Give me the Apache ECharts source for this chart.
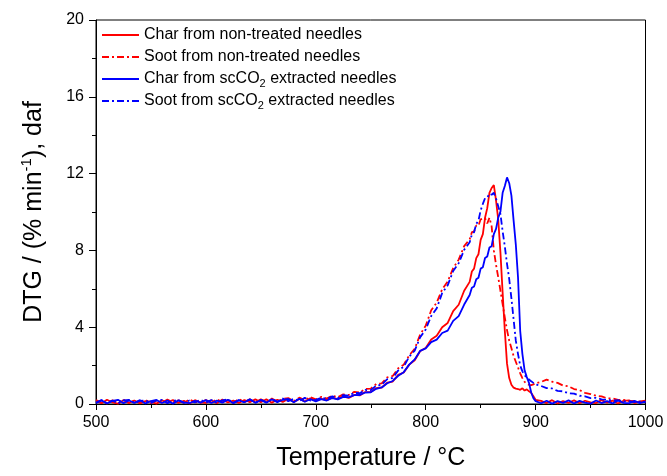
<!DOCTYPE html>
<html>
<head>
<meta charset="utf-8">
<title>DTG curves of char and soot</title>
<script src="https://cdn.jsdelivr.net/npm/echarts@6/dist/echarts.min.js"></script>
<style>
  html, body { margin: 0; padding: 0; background: #fff; }
  #chart { width: 667px; height: 476px; }
</style>
</head>
<body>
<div id="chart"></div>
<script>
// Temperature grid (°C), shared by all four DTG records
const temps = [
  500,505,510,515,520,525,530,535,540,545,
  550,555,560,565,570,575,580,585,590,595,
  600,605,610,615,620,625,630,635,640,645,
  650,655,660,665,670,675,680,685,690,695,
  700,705,710,715,720,725,730,735,740,745,
  750,755,760,765,770,775,780,785,790,795,
  800,805,810,815,820,825,830,835,840,
  842,844,846,848,850,852,854,856,858,860,
  862,864,866,868,870,872,874,876,878,880,
  882,884,886,888,890,892,894,896,898,900,
  905,910,915,920,925,930,935,940,945,950,
  955,960,965,970,975,980,985,990,995,1000
];

// DTG (% min-1, daf): char from non-treated needles
const charRaw = [
  0.16,0.04,0.22,0.08,0.02,0.20,0.06,0.18,0.03,0.15,
  0.12,0.02,0.19,0.07,0.21,0.05,0.17,0.03,0.20,0.09,
  0.06,0.19,0.04,0.23,0.08,0.18,0.05,0.21,0.10,0.24,
  0.09,0.25,0.07,0.22,0.11,0.27,0.10,0.26,0.13,0.30,
  0.18,0.27,0.20,0.33,0.26,0.40,0.32,0.47,0.45,0.62,
  0.62,0.83,0.86,1.11,1.17,1.52,1.64,2.05,2.28,2.76,
  2.92,3.36,3.55,4.00,4.22,4.84,5.17,5.90,6.36,
  6.90,7.05,7.60,7.80,8.55,8.85,9.70,10.2,11.0,11.25,
  11.4,10.6,9.60,7.90,5.80,3.80,2.10,1.35,1.00,0.85,
  0.80,0.78,0.74,0.82,0.70,0.76,0.66,0.58,0.40,0.22,
  0.16,0.05,0.20,0.03,0.15,0.06,0.19,0.04,0.17,0.08,
  0.05,0.20,0.07,0.18,0.03,0.16,0.19,0.05,0.14,0.18
];

// DTG: soot from non-treated needles
const sootRaw = [
  0.20,0.07,0.03,0.19,0.09,0.23,0.05,0.18,0.08,0.22,
  0.04,0.17,0.07,0.23,0.09,0.19,0.05,0.24,0.10,0.06,
  0.21,0.08,0.25,0.09,0.20,0.06,0.26,0.10,0.24,0.09,
  0.25,0.11,0.28,0.13,0.26,0.31,0.15,0.33,0.19,0.36,
  0.24,0.37,0.28,0.44,0.35,0.50,0.47,0.63,0.60,0.79,
  0.80,1.04,1.07,1.39,1.46,1.86,2.05,2.53,2.88,3.62,
  4.08,4.88,5.28,5.98,6.38,7.08,7.52,8.22,8.58,
  8.95,8.98,9.30,9.28,9.62,9.66,9.68,9.40,9.70,9.25,
  8.00,7.25,6.60,5.90,5.20,4.50,3.85,3.30,2.90,2.50,
  2.20,1.90,1.60,1.35,1.15,1.05,1.00,0.98,1.02,1.08,
  1.15,1.27,1.16,1.10,0.96,0.92,0.78,0.72,0.58,0.52,
  0.43,0.40,0.30,0.29,0.21,0.22,0.15,0.16,0.11,0.13
];

// DTG: char from scCO2 extracted needles
const charExt = [
  0.05,0.19,0.03,0.16,0.22,0.04,0.18,0.06,0.20,0.03,
  0.15,0.21,0.05,0.18,0.02,0.19,0.08,0.04,0.17,0.07,
  0.20,0.05,0.18,0.07,0.22,0.04,0.19,0.09,0.23,0.06,
  0.20,0.07,0.24,0.10,0.22,0.26,0.09,0.27,0.12,0.25,
  0.14,0.25,0.18,0.31,0.24,0.37,0.35,0.46,0.47,0.60,
  0.61,0.79,0.86,1.08,1.20,1.47,1.66,2.05,2.32,2.77,
  2.90,3.22,3.35,3.70,3.82,4.33,4.58,5.18,5.68,
  6.05,6.12,6.50,6.58,7.05,7.12,7.60,7.68,8.15,8.22,
  8.85,9.12,9.70,10.02,11.0,11.35,11.8,11.5,10.85,9.55,
  8.30,6.60,3.80,2.60,1.75,1.40,1.10,0.60,0.30,0.15,
  0.04,0.17,0.02,0.15,0.06,0.19,0.03,0.16,0.07,0.02,
  0.18,0.05,0.15,0.03,0.19,0.06,0.04,0.16,0.05,0.14
];

// DTG: soot from scCO2 extracted needles
const sootExt = [
  0.07,0.20,0.05,0.18,0.03,0.19,0.22,0.05,0.16,0.19,
  0.06,0.18,0.21,0.04,0.16,0.20,0.05,0.18,0.08,0.22,
  0.08,0.21,0.06,0.19,0.24,0.07,0.20,0.09,0.25,0.08,
  0.22,0.10,0.26,0.12,0.29,0.14,0.28,0.15,0.32,0.18,
  0.22,0.33,0.26,0.40,0.31,0.46,0.43,0.58,0.56,0.73,
  0.72,0.96,1.00,1.29,1.36,1.75,1.94,2.47,2.78,3.48,
  3.88,4.58,4.98,5.78,6.18,6.93,7.33,8.03,8.42,
  8.82,8.95,9.38,9.55,10.08,10.42,10.72,10.75,10.95,10.9,
  11.0,10.7,10.3,9.90,9.00,8.20,7.30,6.50,5.50,4.40,
  3.30,2.60,2.00,1.70,1.50,1.38,1.28,1.18,1.10,1.02,
  0.94,0.83,0.81,0.68,0.66,0.56,0.54,0.43,0.40,0.31,
  0.32,0.24,0.23,0.18,0.19,0.13,0.15,0.10,0.12,0.09
];

const xTicks = { min: 500, max: 1000, step: 100 };
const yTicks = { min: 0, max: 20, step: 4 };

const seriesNames = [
  'Char from non-treated needles',
  'Soot from non-treated needles',
  'Char from scCO2 extracted needles',
  'Soot from scCO2 extracted needles'
];

const FONT = '"Liberation Sans", Arial, Helvetica, sans-serif';
const RED = '#ff0000';
const BLUE = '#0000ff';
const DASH_DOT = [7, 3, 2, 3];

function pairs(values) {
  return temps.map((t, i) => [t, values[i]]);
}

function lineSeries(name, values, color, dashed) {
  return {
    name: name,
    type: 'line',
    data: pairs(values),
    showSymbol: false,
    symbol: 'none',
    smooth: false,
    lineStyle: { color: color, width: 1.8, type: dashed ? DASH_DOT : 'solid' },
    itemStyle: { color: color },
    emphasis: { disabled: true }
  };
}

const chart = echarts.init(document.getElementById('chart'), null, { renderer: 'canvas' });

chart.setOption({
  animation: false,
  backgroundColor: '#ffffff',
  textStyle: { fontFamily: FONT, color: '#000' },
  grid: {
    left: 96, right: 21.5, top: 20, bottom: 67.7,
    show: true, borderColor: '#000', borderWidth: 1, backgroundColor: 'transparent'
  },
  legend: {
    orient: 'vertical',
    left: 101,
    top: 25,
    padding: 0,
    itemGap: 2,
    itemWidth: 37,
    itemHeight: 14,
    selectedMode: false,
    data: seriesNames,
    itemStyle: { opacity: 0, borderWidth: 0 },
    lineStyle: { width: 2 },
    formatter: function (name) {
      return name.replace('scCO2', 'scCO{sub|2}');
    },
    textStyle: {
      fontFamily: FONT, fontSize: 16, color: '#000', lineHeight: 20,
      rich: {
        sub: { fontFamily: FONT, fontSize: 11, lineHeight: 10, verticalAlign: 'bottom', color: '#000' }
      }
    }
  },
  xAxis: {
    type: 'value',
    min: xTicks.min,
    max: xTicks.max,
    interval: xTicks.step,
    name: 'Temperature / °C',
    nameLocation: 'middle',
    nameGap: 42,
    nameTextStyle: { fontFamily: FONT, fontSize: 25, color: '#000' },
    axisLine: { show: true, onZero: false, lineStyle: { color: '#000', width: 1 } },
    axisTick: { show: true, inside: false, length: 6, lineStyle: { color: '#000' } },
    minorTick: { show: true, splitNumber: 2, length: 4, lineStyle: { color: '#000' } },
    axisLabel: {
      fontFamily: FONT, fontSize: 16, color: '#000', margin: 11,
      formatter: function (v) { return String(v); }
    },
    splitLine: { show: false }
  },
  yAxis: {
    type: 'value',
    min: yTicks.min,
    max: yTicks.max,
    interval: yTicks.step,
    name: '{m|DTG / (% min}{s|-1}{m|), daf}',
    nameLocation: 'middle',
    nameGap: 47,
    nameRotate: 90,
    nameTextStyle: {
      fontFamily: FONT, fontSize: 25, color: '#000',
      rich: {
        m: { fontFamily: FONT, fontSize: 25, lineHeight: 30, color: '#000' },
        s: { fontFamily: FONT, fontSize: 15, lineHeight: 15, verticalAlign: 'top', color: '#000' }
      }
    },
    axisLine: { show: true, lineStyle: { color: '#000', width: 1 } },
    axisTick: { show: true, inside: false, length: 7, lineStyle: { color: '#000' } },
    minorTick: { show: true, splitNumber: 2, length: 4, lineStyle: { color: '#000' } },
    axisLabel: { fontFamily: FONT, fontSize: 16, color: '#000', margin: 12 },
    splitLine: { show: false }
  },
  series: [
    lineSeries(seriesNames[0], charRaw, RED, false),
    lineSeries(seriesNames[1], sootRaw, RED, true),
    lineSeries(seriesNames[2], charExt, BLUE, false),
    lineSeries(seriesNames[3], sootExt, BLUE, true)
  ]
});
</script>
</body>
</html>
